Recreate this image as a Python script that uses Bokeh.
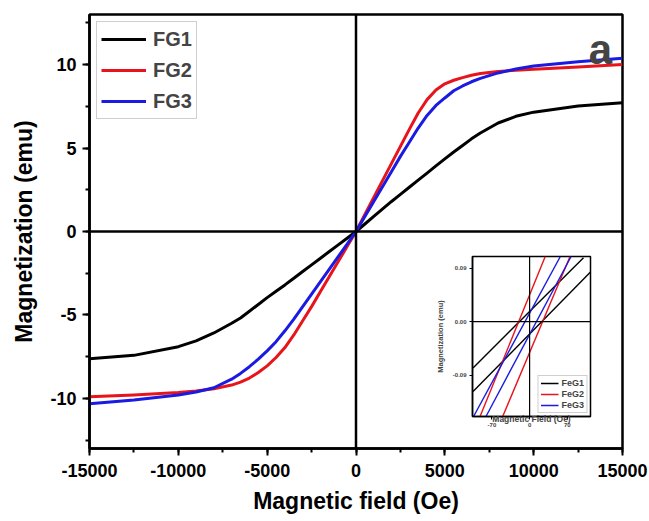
from bokeh.plotting import figure
from bokeh.models import (Range1d, SingleIntervalTicker, FixedTicker, Span, Legend, LegendItem, Label,
                          PrintfTickFormatter)
from bokeh.layouts import column
from bokeh.embed import file_html
from bokeh.resources import INLINE

# ---------------- data ----------------
field = [-15000, -12500, -10000, -9000, -8000, -7000, -6500, -6000, -5500, -5000, -4500, -4000,
         -3500, -3000, -2500, -2000, -1500, -1000, -500, 0,
         500, 1000, 1500, 2000, 2500, 3000, 3500, 4000, 4500, 5000, 5500, 6000, 6500, 7000,
         8000, 9000, 10000, 12500, 15000]
fg1 = [-7.62, -7.42, -6.90, -6.55, -6.08, -5.50, -5.18, -4.78, -4.37, -3.96, -3.58, -3.20,
       -2.80, -2.40, -2.00, -1.60, -1.20, -0.80, -0.40, 0.0,
       0.45, 0.90, 1.35, 1.80, 2.22, 2.65, 3.08, 3.50, 3.93, 4.35, 4.76, 5.15, 5.55, 5.90,
       6.50, 6.90, 7.15, 7.52, 7.72]
fg2 = [-9.90, -9.80, -9.65, -9.56, -9.42, -9.20, -9.02, -8.78, -8.45, -8.05, -7.55, -6.95,
       -6.20, -5.35, -4.50, -3.60, -2.70, -1.80, -0.90, 0.0,
       1.02, 2.04, 3.06, 4.08, 5.10, 6.12, 7.10, 7.90, 8.48, 8.85, 9.06, 9.22, 9.36, 9.46,
       9.59, 9.66, 9.72, 9.85, 10.00]
fg3 = [-10.32, -10.10, -9.80, -9.62, -9.36, -8.85, -8.50, -8.10, -7.65, -7.15, -6.60, -5.95,
       -5.25, -4.50, -3.75, -3.00, -2.25, -1.50, -0.75, 0.0,
       0.90, 1.80, 2.70, 3.60, 4.50, 5.35, 6.20, 6.95, 7.55, 8.00, 8.43, 8.72, 8.97, 9.17,
       9.50, 9.74, 9.92, 10.17, 10.38]
series_names = ["FG1", "FG2", "FG3"]

# inset: two branches of each loop near the origin (field in Oe, magnetization in emu)
feg1_h = [[-105, 100], [-105, 113]]
feg1_m = [[-0.078, 0.108], [-0.118, 0.084]]
feg2_h = [[-92, 29], [-50, 75]]
feg2_m = [[-0.16, 0.11], [-0.16, 0.11]]
feg3_h = [[-104, 57], [-81, 77]]
feg3_m = [[-0.16, 0.11], [-0.16, 0.11]]
inset_names = ["FeG1", "FeG2", "FeG3"]
inset_yticks = [-0.09, 0.0, 0.09]
inset_xticks = [-70, 0, 70]

colors = ["#000000", "#e8141c", "#1a1ae0"]
FONT = "Liberation Sans"

# ---------------- main figure ----------------
p = figure(width=649, height=521, output_backend="svg", toolbar_location=None,
           x_range=Range1d(-15000, 15000), y_range=Range1d(-13, 13),
           min_border_left=89, min_border_right=27, min_border_top=14, min_border_bottom=73)
p.xgrid.visible = False
p.ygrid.visible = False
p.outline_line_color = "black"
p.outline_line_width = 2.5
p.background_fill_color = "white"
p.border_fill_color = "white"

p.xaxis.ticker = SingleIntervalTicker(interval=5000, num_minor_ticks=2)
p.yaxis.ticker = SingleIntervalTicker(interval=5, num_minor_ticks=2)
p.xaxis.formatter = PrintfTickFormatter(format="%d")
p.yaxis.formatter = PrintfTickFormatter(format="%d")
for ax in (p.xaxis[0], p.yaxis[0]):
    ax.axis_line_width = 2.5
    ax.major_tick_line_width = 2
    ax.minor_tick_line_width = 2
    ax.major_tick_out = 7
    ax.major_tick_in = 0
    ax.minor_tick_out = 4
    ax.minor_tick_in = 0
    ax.major_label_text_font = FONT
    ax.major_label_text_font_style = "bold"
    ax.major_label_text_font_size = "18px"
    ax.major_label_text_color = "black"
    ax.axis_label_text_font = FONT
    ax.axis_label_text_font_style = "bold"
    ax.axis_label_text_font_size = "23px"
    ax.axis_label_text_color = "black"
p.xaxis.axis_label = "Magnetic field (Oe)"
p.yaxis.axis_label = "Magnetization (emu)"
p.xaxis.major_label_standoff = 8
p.yaxis.major_label_standoff = 6
p.xaxis.axis_label_standoff = 8
p.yaxis.axis_label_standoff = 10

p.add_layout(Span(location=0, dimension="width", line_color="black", line_width=2.5))
p.add_layout(Span(location=0, dimension="height", line_color="black", line_width=2.5))

items = []
for name, ys, c in zip(series_names, [fg1, fg2, fg3], colors):
    r = p.line(field, ys, line_color=c, line_width=3, line_join="round")
    items.append(LegendItem(label=name, renderers=[r]))

leg = Legend(items=items, location="top_left", margin=7, padding=4, spacing=5,
             glyph_width=45, glyph_height=26, label_height=26, label_standoff=7,
             label_text_font=FONT, label_text_font_style="bold", label_text_font_size="20px",
             border_line_color="#a0a0a0", border_line_width=1, background_fill_alpha=1)
p.add_layout(leg)

p.add_layout(Label(x=13763, y=10.9, text="a", text_align="center", text_baseline="alphabetic",
                   text_font=FONT, text_font_style="bold", text_font_size="42px"))

# ---------------- inset ----------------
q = figure(width=234, height=178, output_backend="svg", toolbar_location=None,
           x_range=Range1d(-106, 113), y_range=Range1d(-0.16, 0.11),
           min_border_left=30, min_border_right=4, min_border_top=4, min_border_bottom=14)
q.xgrid.visible = False
q.ygrid.visible = False
q.outline_line_color = "black"
q.outline_line_width = 1.5
q.border_fill_color = "white"
q.background_fill_color = "white"
q.xaxis.ticker = FixedTicker(ticks=inset_xticks)
q.yaxis.ticker = FixedTicker(ticks=inset_yticks)
q.yaxis.formatter = PrintfTickFormatter(format="%.2f")
q.xaxis.formatter = PrintfTickFormatter(format="%d")
for ax in (q.xaxis[0], q.yaxis[0]):
    ax.axis_line_width = 1.5
    ax.major_tick_out = 3
    ax.major_tick_in = 0
    ax.minor_tick_out = 0
    ax.minor_tick_in = 0
    ax.major_label_text_font = FONT
    ax.major_label_text_font_style = "bold"
    ax.major_label_text_font_size = "6px"
    ax.major_label_standoff = 3
    ax.axis_label_text_font = FONT
    ax.axis_label_text_font_style = "bold"
    ax.axis_label_text_font_size = "7.5px"
q.yaxis.axis_label = "Magnetization (emu)"
q.yaxis.axis_label_standoff = 5
q.xaxis.axis_label = "Magnetic Field (Oe)"
q.xaxis.axis_label_text_font_size = "8.5px"
q.xaxis.axis_label_standoff = -16
q.add_layout(Span(location=0, dimension="width", line_color="black", line_width=1.2))
q.add_layout(Span(location=0, dimension="height", line_color="black", line_width=1.2))

iitems = []
for name, hs, ms, c in zip(inset_names, [feg1_h, feg2_h, feg3_h], [feg1_m, feg2_m, feg3_m], colors):
    r = q.multi_line(hs, ms, line_color=c, line_width=1.4)
    iitems.append(LegendItem(label=name, renderers=[r]))
ileg = Legend(items=iitems, location="bottom_right", margin=3, padding=2, spacing=1,
              glyph_width=18, glyph_height=10, label_height=10, label_standoff=3,
              label_text_font=FONT, label_text_font_style="bold", label_text_font_size="9px",
              border_line_color="#a0a0a0", border_line_width=1)
q.add_layout(ileg)
q.styles = {"position": "absolute", "left": "383px", "top": "252px"}

layout = column(p, q)
open("out.html", "w").write(file_html(layout, INLINE))
